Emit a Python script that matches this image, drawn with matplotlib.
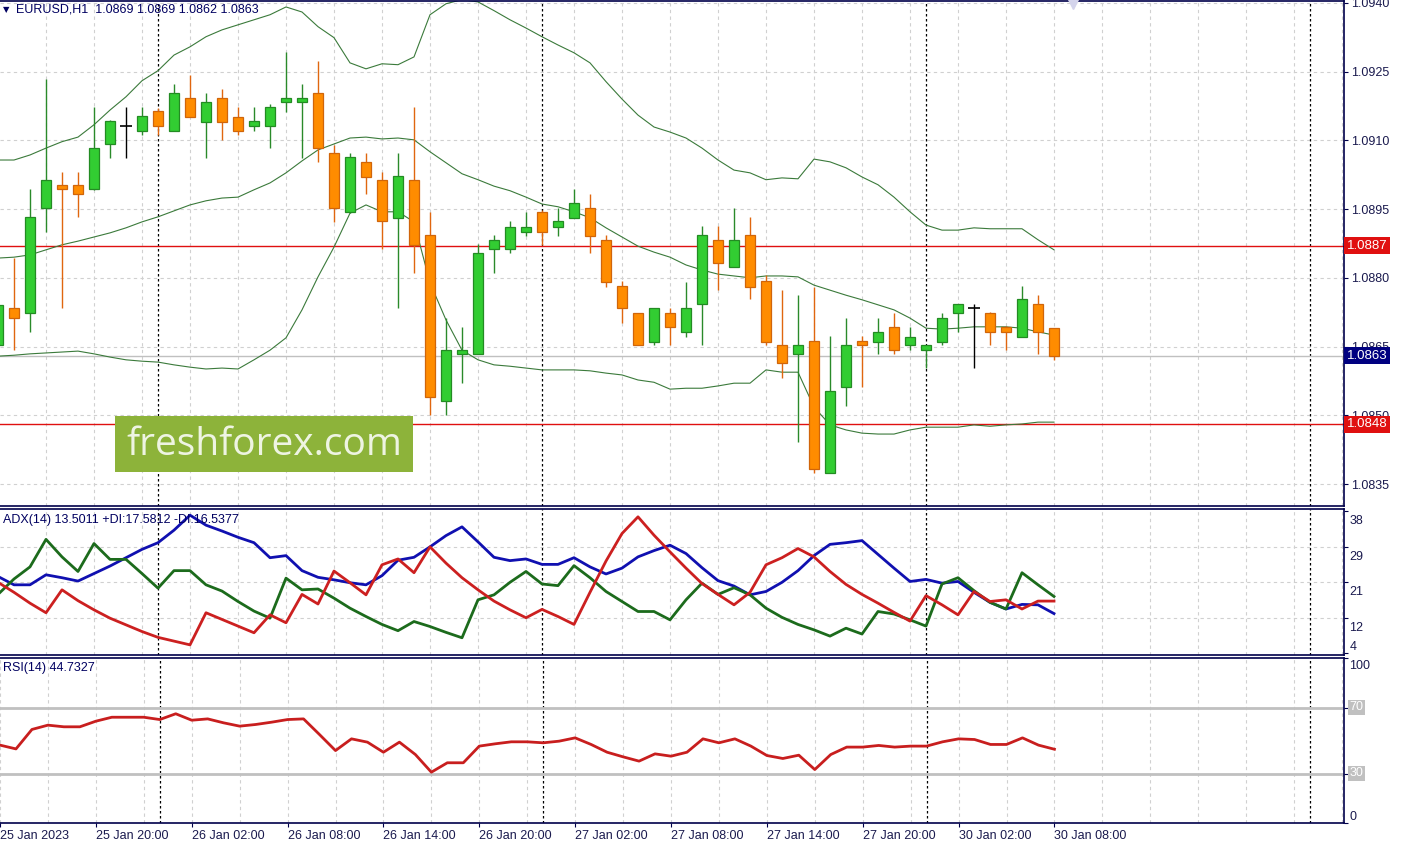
import numpy as np
import matplotlib.pyplot as plt
from matplotlib.patches import Rectangle
from matplotlib.ticker import FormatStrFormatter
from matplotlib.transforms import blended_transform_factory, offset_copy

plt.rcParams['font.family'] = ['Liberation Sans', 'DejaVu Sans']

# EURUSD H1, 25 Jan 14:00 .. 30 Jan 08:00
opens = [1.08653, 1.08734, 1.08723, 1.08952, 1.09003, 1.09003, 1.08994, 1.09092, 1.09131, 1.09121,
         1.09164, 1.09121, 1.09193, 1.09140, 1.09193, 1.09151, 1.09131, 1.09131, 1.09184, 1.09184,
         1.09203, 1.09072, 1.08944, 1.09053, 1.09014, 1.08931, 1.09014, 1.08893, 1.08531, 1.08634,
         1.08634, 1.08863, 1.08863, 1.08900, 1.08944, 1.08911, 1.08931, 1.08952, 1.08883, 1.08782,
         1.08723, 1.08660, 1.08723, 1.08682, 1.08743, 1.08883, 1.08824, 1.08893, 1.08793, 1.08653,
         1.08634, 1.08662, 1.08374, 1.08562, 1.08662, 1.08660, 1.08693, 1.08653, 1.08642, 1.08660,
         1.08723, 1.08734, 1.08723, 1.08693, 1.08671, 1.08743, 1.08690]
highs = [1.08773, 1.08843, 1.08994, 1.09234, 1.09031, 1.09031, 1.09173, 1.09145, 1.09173, 1.09173,
         1.09171, 1.09223, 1.09243, 1.09203, 1.09212, 1.09173, 1.09173, 1.09179, 1.09293, 1.09223,
         1.09273, 1.09090, 1.09072, 1.09072, 1.09031, 1.09072, 1.09173, 1.08944, 1.08712, 1.08693,
         1.08874, 1.08893, 1.08924, 1.08944, 1.08948, 1.08952, 1.08994, 1.08983, 1.08893, 1.08793,
         1.08723, 1.08734, 1.08734, 1.08791, 1.08913, 1.08913, 1.08952, 1.08933, 1.08806, 1.08773,
         1.08762, 1.08780, 1.08673, 1.08712, 1.08673, 1.08712, 1.08723, 1.08693, 1.08653, 1.08723,
         1.08743, 1.08743, 1.08725, 1.08695, 1.08782, 1.08762, 1.08690]
lows = [1.08642, 1.08642, 1.08682, 1.08900, 1.08734, 1.08933, 1.08992, 1.09062, 1.09062, 1.09112,
        1.09112, 1.09121, 1.09151, 1.09062, 1.09101, 1.09112, 1.09121, 1.09083, 1.09162, 1.09062,
        1.09053, 1.08922, 1.08942, 1.08983, 1.08863, 1.08734, 1.08810, 1.08500, 1.08500, 1.08570,
        1.08634, 1.08810, 1.08854, 1.08891, 1.08872, 1.08891, 1.08931, 1.08854, 1.08780, 1.08701,
        1.08653, 1.08653, 1.08653, 1.08671, 1.08653, 1.08773, 1.08824, 1.08754, 1.08653, 1.08581,
        1.08441, 1.08374, 1.08374, 1.08520, 1.08562, 1.08634, 1.08634, 1.08642, 1.08603, 1.08653,
        1.08682, 1.08603, 1.08653, 1.08642, 1.08671, 1.08634, 1.08620]
closes = [1.08741, 1.08712, 1.08933, 1.09014, 1.08994, 1.08983, 1.09083, 1.09142, 1.09131, 1.09153,
          1.09131, 1.09203, 1.09151, 1.09184, 1.09140, 1.09121, 1.09142, 1.09173, 1.09193, 1.09193,
          1.09083, 1.08952, 1.09064, 1.09020, 1.08924, 1.09022, 1.08872, 1.08540, 1.08642, 1.08642,
          1.08854, 1.08883, 1.08911, 1.08911, 1.08900, 1.08924, 1.08963, 1.08891, 1.08791, 1.08734,
          1.08653, 1.08734, 1.08693, 1.08734, 1.08893, 1.08832, 1.08883, 1.08780, 1.08660, 1.08614,
          1.08653, 1.08383, 1.08553, 1.08653, 1.08653, 1.08682, 1.08642, 1.08671, 1.08653, 1.08712,
          1.08743, 1.08734, 1.08682, 1.08682, 1.08754, 1.08682, 1.08630]

# Bollinger bands (20, 2)
bb_upper = [1.09057, 1.09057, 1.09068, 1.09083, 1.09097, 1.09107, 1.09134, 1.09166, 1.09195, 1.09230,
            1.09252, 1.09286, 1.09304, 1.09326, 1.09341, 1.09352, 1.09363, 1.09374, 1.09391, 1.09380,
            1.09348, 1.09324, 1.09269, 1.09256, 1.09267, 1.09265, 1.09282, 1.09374, 1.09398, 1.09407,
            1.09402, 1.09383, 1.09363, 1.09345, 1.09326, 1.09308, 1.09291, 1.09269, 1.09228, 1.09190,
            1.09155, 1.09129, 1.09118, 1.09105, 1.09083, 1.09057, 1.09035, 1.09029, 1.09014, 1.09018,
            1.09016, 1.09059, 1.09053, 1.09040, 1.09020, 1.09003, 1.08976, 1.08944, 1.08915, 1.08904,
            1.08904, 1.08909, 1.08907, 1.08907, 1.08907, 1.08883, 1.08861]
bb_middle = [1.08843, 1.08845, 1.08850, 1.08861, 1.08872, 1.08880, 1.08889, 1.08898, 1.08909, 1.08922,
             1.08933, 1.08946, 1.08959, 1.08968, 1.08974, 1.08976, 1.08992, 1.09007, 1.09029, 1.09055,
             1.09079, 1.09092, 1.09105, 1.09107, 1.09103, 1.09105, 1.09101, 1.09075, 1.09051, 1.09027,
             1.09014, 1.09000, 1.08990, 1.08976, 1.08961, 1.08955, 1.08944, 1.08931, 1.08909, 1.08889,
             1.08869, 1.08856, 1.08845, 1.08828, 1.08817, 1.08808, 1.08804, 1.08800, 1.08804, 1.08804,
             1.08802, 1.08784, 1.08773, 1.08762, 1.08752, 1.08741, 1.08730, 1.08712, 1.08690, 1.08688,
             1.08690, 1.08693, 1.08693, 1.08693, 1.08690, 1.08682, 1.08675]
bb_lower = [1.08629, 1.08631, 1.08634, 1.08636, 1.08638, 1.08640, 1.08634, 1.08627, 1.08621, 1.08618,
            1.08616, 1.08610, 1.08605, 1.08601, 1.08603, 1.08601, 1.08621, 1.08642, 1.08669, 1.08730,
            1.08802, 1.08867, 1.08941, 1.08959, 1.08944, 1.08944, 1.08922, 1.08789, 1.08708, 1.08642,
            1.08621, 1.08610, 1.08607, 1.08603, 1.08599, 1.08599, 1.08599, 1.08597, 1.08592, 1.08588,
            1.08577, 1.08572, 1.08557, 1.08559, 1.08559, 1.08564, 1.08570, 1.08570, 1.08599, 1.08594,
            1.08594, 1.08518, 1.08479, 1.08468, 1.08461, 1.08459, 1.08459, 1.08468, 1.08474, 1.08474,
            1.08474, 1.08479, 1.08476, 1.08479, 1.08481, 1.08485, 1.08485]

adx = [22.4, 20.4, 20.4, 22.8, 22.1, 21.3, 23.1, 24.9, 26.9, 28.9,
       30.5, 33.5, 37.1, 34.7, 33.3, 31.8, 30.5, 26.9, 27.4, 23.8,
       22.2, 21.6, 20.9, 20.4, 22.6, 26.3, 27.0, 29.5, 32.2, 34.3,
       30.7, 27.0, 26.2, 26.6, 25.3, 25.3, 26.9, 24.7, 23.0, 24.4,
       27.1, 28.6, 29.9, 27.9, 24.5, 21.4, 20.1, 18.0, 18.8, 21.0,
       23.8, 27.4, 30.1, 30.5, 31.0, 27.7, 24.4, 21.2, 21.7, 20.8,
       21.2, 18.6, 16.2, 14.6, 15.7, 15.6, 13.5]
plus_di = [18.1, 21.8, 24.7, 31.3, 27.1, 23.6, 30.3, 26.5, 26.5, 23.1,
           19.6, 23.8, 23.8, 20.4, 18.9, 16.4, 14.1, 12.4, 22.0, 19.2,
           19.4, 17.2, 14.8, 12.8, 10.9, 9.4, 11.6, 10.4, 9.0, 7.7,
           16.8, 18.0, 21.0, 23.6, 20.6, 20.2, 25.0, 22.1, 18.8, 16.4,
           14.0, 14.0, 12.0, 16.8, 20.8, 18.1, 19.7, 18.0, 14.8, 12.6,
           10.9, 9.6, 8.1, 10.0, 8.6, 14.0, 13.4, 12.0, 10.5, 20.6,
           22.1, 19.0, 16.2, 14.6, 23.3, 20.4, 17.6]
minus_di = [21.0, 18.6, 16.0, 13.7, 19.2, 16.6, 14.4, 12.4, 10.8, 9.2,
            7.8, 6.9, 6.0, 13.7, 12.1, 10.5, 8.9, 13.2, 11.3, 18.1,
            15.8, 23.7, 20.9, 18.0, 25.2, 26.6, 23.3, 29.5, 25.6, 22.1,
            19.2, 16.5, 14.4, 12.5, 14.5, 12.8, 10.9, 18.6, 26.1, 32.7,
            36.7, 32.3, 28.3, 24.4, 20.7, 18.1, 15.6, 18.6, 25.2, 26.9,
            29.1, 27.1, 23.6, 20.5, 18.1, 16.0, 13.8, 11.7, 17.8, 15.6,
            13.2, 18.8, 16.4, 16.8, 14.6, 16.5, 16.5]

rsi = [47.2, 44.9, 56.7, 59.3, 58.3, 58.3, 61.7, 64.1, 64.1, 64.1,
       62.7, 66.2, 62.3, 63.1, 60.7, 58.7, 59.7, 61.1, 62.7, 63.1,
       53.6, 43.9, 51.0, 49.0, 42.9, 49.0, 41.5, 30.8, 36.5, 36.5,
       46.6, 48.0, 49.2, 49.2, 48.6, 49.6, 51.6, 47.6, 42.9, 40.1,
       37.5, 41.9, 40.5, 42.9, 51.0, 48.6, 51.0, 46.6, 40.9, 39.1,
       41.1, 32.4, 41.5, 46.0, 46.0, 47.0, 46.0, 46.6, 46.6, 49.2,
       51.0, 50.6, 47.6, 47.6, 51.6, 47.2, 44.7]

time_labels = ['25 Jan 2023', '25 Jan 20:00', '26 Jan 02:00', '26 Jan 08:00', '26 Jan 14:00',
               '26 Jan 20:00', '27 Jan 02:00', '27 Jan 08:00', '27 Jan 14:00', '27 Jan 20:00',
               '30 Jan 02:00', '30 Jan 08:00']
label_bars = [0, 6, 12, 18, 24, 30, 36, 42, 48, 54, 60, 66]
day_breaks = [10, 34, 58, 82]

resistance = 1.0887
support = 1.0848
bid = 1.0863

navy = '#00004A'
txt = '#1A1A4E'
grid_c = '#D0D0D0'

W, H = 1403, 844
fig = plt.figure(figsize=(W / 100, H / 100), dpi=100)


def box(l, t, r, b):
    return [l / W, 1 - b / H, (r - l) / W, (b - t) / H]


ax_p = fig.add_axes(box(0, 1, 1344, 506))
ax_a = fig.add_axes(box(0, 509, 1344, 655))
ax_r = fig.add_axes(box(0, 658, 1344, 823))

x = np.arange(len(opens))
o, h, l, c = map(np.array, (opens, highs, lows, closes))

for ax in (ax_p, ax_a, ax_r):
    ax.set_xlim(0.125, 84.125)
    for s in ax.spines.values():
        s.set_color(navy)
        s.set_linewidth(1.2)
    ax.spines['left'].set_visible(False)
    ax.yaxis.tick_right()
    ax.tick_params(axis='y', length=3, color=navy, labelsize=9, labelcolor=txt, pad=2)
    for k in range(0, 85, 3):
        ax.axvline(k, color=grid_c, lw=0.8, ls=(0, (3, 3)), zorder=0)
    for k in day_breaks:
        ax.axvline(k, color='black', lw=0.9, ls=(0, (2, 2)), zorder=1)

# price panel
ax_p.set_ylim(1.08302, 1.09404)
ax_p.set_yticks(np.arange(1.0835, 1.09401, 0.0015))
ax_p.yaxis.set_major_formatter(FormatStrFormatter('%.4f'))
ax_p.set_xticks([])
for v in np.arange(1.0835, 1.09401, 0.0015):
    ax_p.axhline(v, color=grid_c, lw=0.8, ls=(0, (3, 3)), zorder=0)

ax_p.axhline(bid, color='#C0C0C0', lw=1, zorder=1)
ax_p.axhline(resistance, color='#E01010', lw=1, zorder=1)
ax_p.axhline(support, color='#E01010', lw=1, zorder=1)

band_c = '#3B7A3B'
ax_p.plot(x, bb_upper, color=band_c, lw=0.8, zorder=2)
ax_p.plot(x, bb_middle, color=band_c, lw=0.8, zorder=2)
ax_p.plot(x, bb_lower, color=band_c, lw=0.8, zorder=2)

bull = c > o
bear = c < o
doji = c == o
wick_c = np.where(bull, '#2A8A2A', np.where(bear, '#E0660F', 'black'))
ax_p.vlines(x, l, h, colors=wick_c, lw=1, zorder=3)
body_fill = np.where(bull, '#32CD32', '#FF8C00')
body_edge = np.where(bull, '#238B23', '#D0650A')
nd = ~doji
ax_p.bar(x[nd], np.abs(c - o)[nd], bottom=np.minimum(o, c)[nd], width=0.64,
         color=body_fill[nd], edgecolor=body_edge[nd], lw=0.9, zorder=4)
ax_p.hlines(o[doji], x[doji] - 0.35, x[doji] + 0.35, color='black', lw=1.2, zorder=4)

# price boxes on the scale (they cover part of the nearby scale labels, as in the terminal)
trans = blended_transform_factory(ax_p.transAxes, ax_p.transData)
for v, fc in ((resistance, '#E01010'), (bid, '#000080'), (support, '#E01010')):
    ax_p.text(1.0022, v, f'{v:.4f}', transform=trans, va='center', ha='left', fontsize=9.5,
              color='white', clip_on=False, zorder=6,
              bbox=dict(facecolor=fc, edgecolor='none', boxstyle='square,pad=0.2'))

ax_p.plot(67.2, 1.09398, marker='v', ms=7, color='#D4D4EC', clip_on=False, zorder=5)

fig.text(3 / W, 1 - 10 / H, '\u25bc', fontsize=6, color='#000060', va='center',
         family='DejaVu Sans')
fig.text(16 / W, 1 - 10 / H, 'EURUSD,H1  1.0869 1.0869 1.0862 1.0863', fontsize=9,
         color='#000060', va='center')

# ADX panel
ax_a.set_ylim(3.57, 38.58)
adx_levels = [38.1, 29.575, 21.05, 12.525, 4.0]
ax_a.set_yticks(adx_levels)
ax_a.set_yticklabels([])
ax_a.set_xticks([])
for v in adx_levels[1:4]:
    ax_a.axhline(v, color=grid_c, lw=0.8, ls=(0, (3, 3)), zorder=0)
tr_a = blended_transform_factory(ax_a.transAxes, ax_a.transData)
tr_a_low = offset_copy(tr_a, fig=fig, y=-4, units='dots')
for v in adx_levels:
    ax_a.text(1.004, v, str(int(v)), transform=tr_a if v < 5 else tr_a_low, fontsize=9,
              color=txt, ha='left', va='bottom' if v < 5 else 'top', clip_on=False)
ax_a.plot(x, adx, color='#1010B0', lw=2, zorder=3)
ax_a.plot(x, plus_di, color='#1C6B1C', lw=2, zorder=3)
ax_a.plot(x, minus_di, color='#CC2020', lw=2, zorder=3)
ax_a.text(3 / 1344, 1 - 11 / 146, 'ADX(14) 13.5011 +DI:17.5812 -DI:16.5377', transform=ax_a.transAxes,
          fontsize=9, color='#000060', va='center')

# RSI panel
ax_r.set_ylim(0, 100)
ax_r.set_yticks([100, 70, 30, 0])
ax_r.set_yticklabels([])
ax_r.axhline(70, color='#C0C0C0', lw=2, zorder=1)
ax_r.axhline(30, color='#C0C0C0', lw=2, zorder=1)
tr_r = blended_transform_factory(ax_r.transAxes, ax_r.transData)
ax_r.text(1.004, 100, '100', transform=offset_copy(tr_r, fig=fig, y=-2, units='dots'),
          fontsize=9, color=txt, va='top', clip_on=False)
ax_r.text(1.004, 0, '0', transform=tr_r, fontsize=9, color=txt, va='bottom', clip_on=False)
for v in (70, 30):
    ax_r.text(1.004, v, str(v), transform=tr_r, fontsize=9, color='white', va='center',
              clip_on=False, bbox=dict(facecolor='#C0C0C0', edgecolor='none', boxstyle='square,pad=0.12'))
ax_r.plot(x, rsi, color='#C81E1E', lw=2, zorder=3)
ax_r.text(3 / 1344, 1 - 10 / 165, 'RSI(14) 44.7327', transform=ax_r.transAxes,
          fontsize=9, color='#000060', va='center')

ax_r.set_xticks(label_bars)
ax_r.set_xticklabels(time_labels, ha='left')
ax_r.tick_params(axis='x', length=3, color=navy, labelsize=9, labelcolor=txt, pad=2)

# watermark
fig.add_artist(Rectangle((115 / W, 1 - 472 / H), 298 / W, 56 / H, transform=fig.transFigure,
                         facecolor='#8DB33A', edgecolor='none', zorder=5))
fig.text(264 / W, 1 - 445 / H, 'freshforex.com', ha='center', va='center', fontsize=28,
         color='#EEF4E2', family='Open Sans', zorder=6)

fig.savefig('out.png', dpi=100)
